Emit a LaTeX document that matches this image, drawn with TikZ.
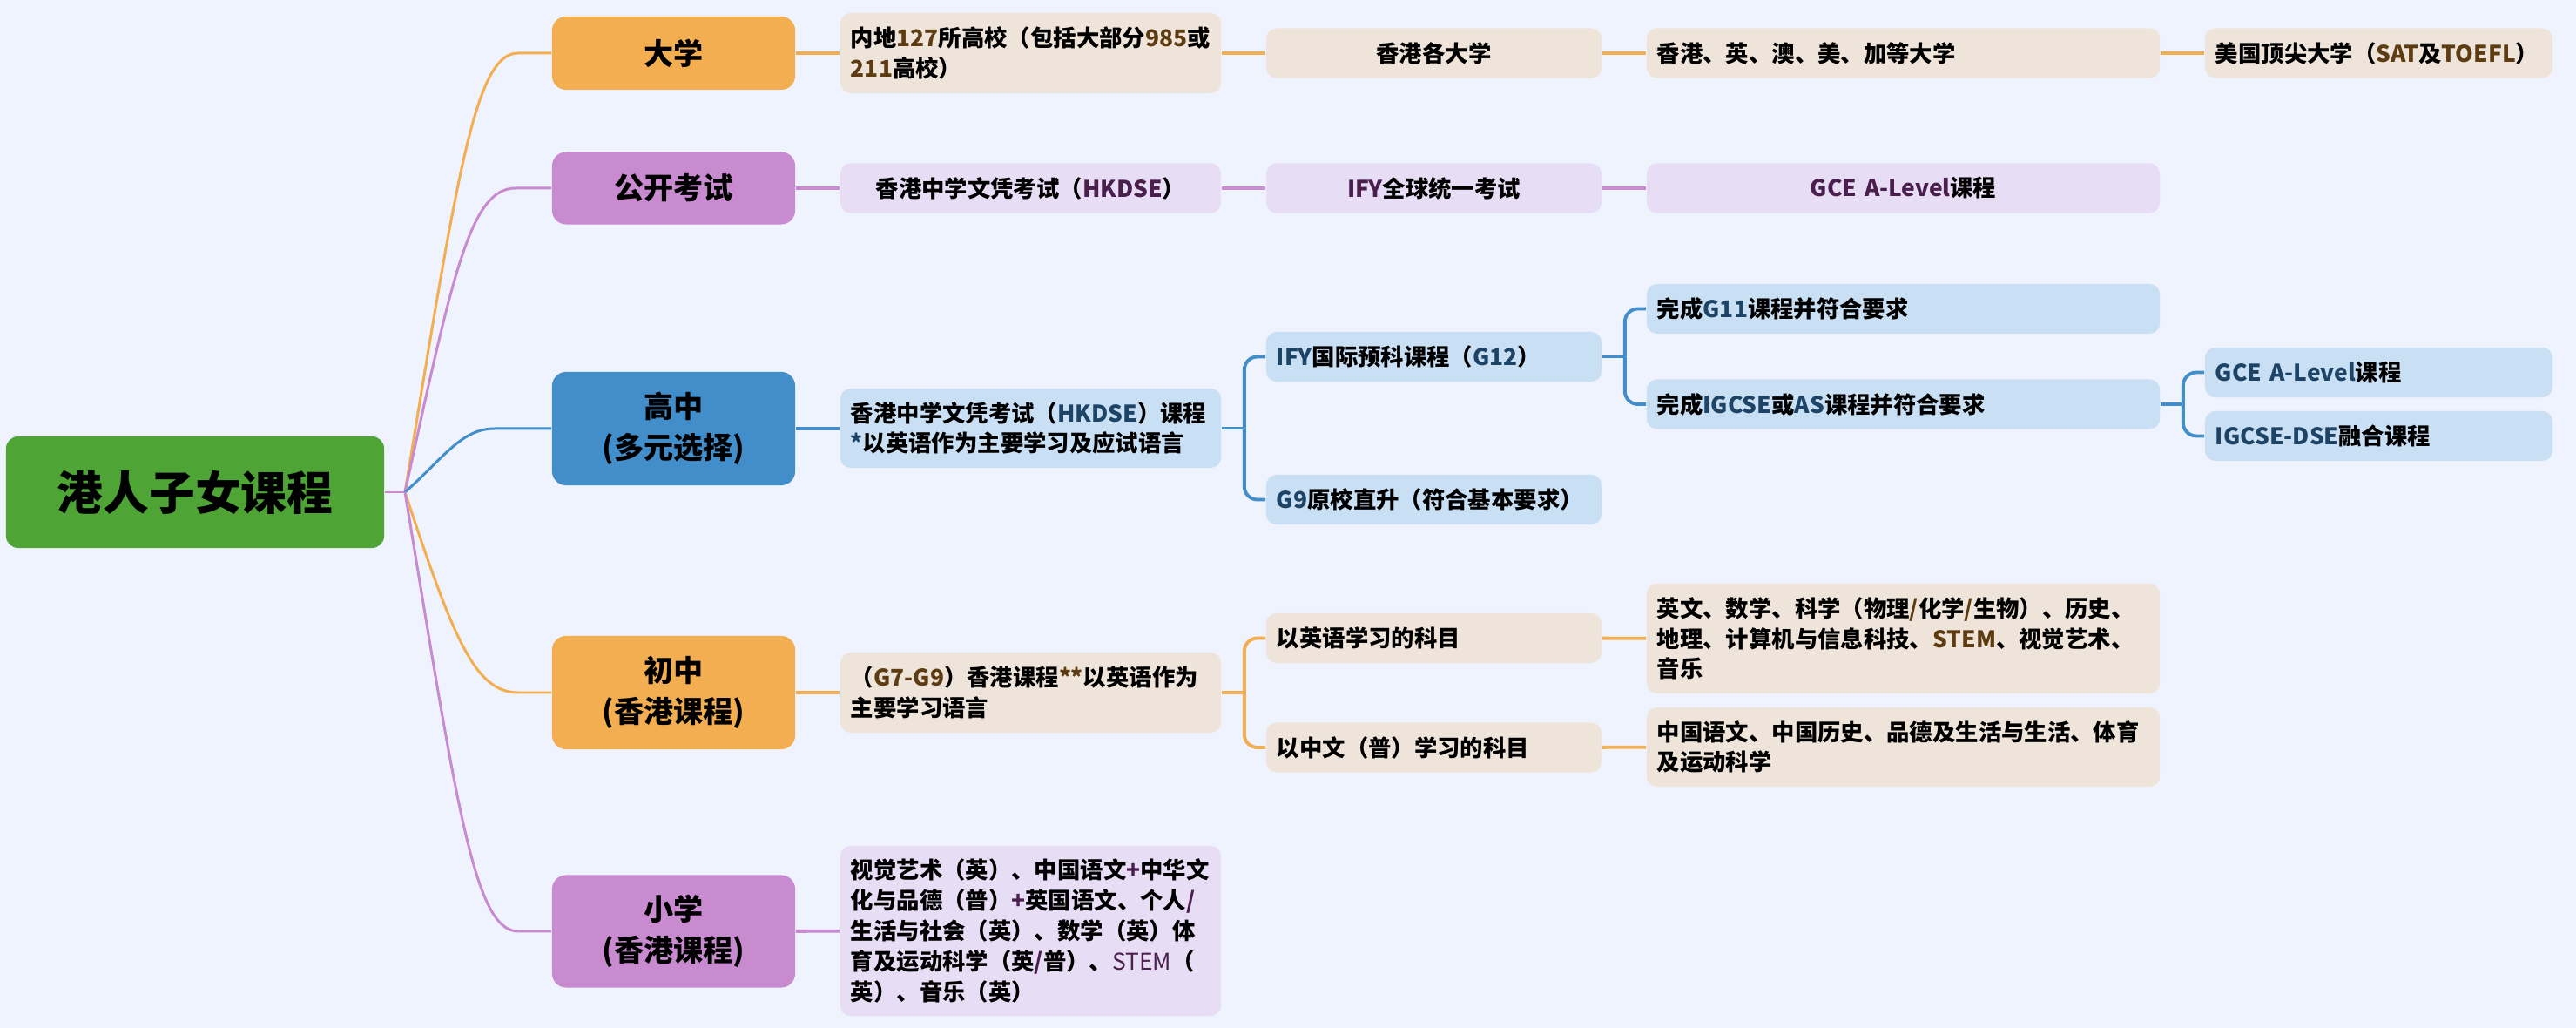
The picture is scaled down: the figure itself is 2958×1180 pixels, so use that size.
\documentclass[tikz,border=0pt]{standalone}
\usepackage{fontspec}
\setmainfont{Noto Sans CJK SC}
\usepackage{tikz}
\definecolor{bgc}{HTML}{EEF3FD}
\definecolor{rootg}{HTML}{4EA535}
\definecolor{orgc}{HTML}{F2AE50}
\definecolor{purc}{HTML}{C88BD0}
\definecolor{bluc}{HTML}{428ECB}
\definecolor{orgl}{HTML}{EFE4DA}
\definecolor{purl}{HTML}{E7DDF5}
\definecolor{blul}{HTML}{C9DFF3}
\definecolor{brn}{HTML}{5E3C12}
\definecolor{dpur}{HTML}{4A1F4E}
\definecolor{dblu}{HTML}{1D4466}
\newcommand{\accO}[1]{\textcolor{brn}{#1}}
\newcommand{\accP}[1]{\textcolor{dpur}{#1}}
\newcommand{\accB}[1]{\textcolor{dblu}{#1}}
\tikzset{
  box/.style={rounded corners=0.12cm, inner sep=0pt, font=\bfseries},
  rootbox/.style={box, rounded corners=0.14cm, fill=rootg, minimum width=4.34cm, minimum height=1.28cm, font=\fontsize{15}{18}\selectfont\bfseries},
  lvone/.style={box, rounded corners=0.16cm, minimum width=2.79cm, align=center, font=\fontsize{9.7}{13.4}\selectfont\bfseries},
  lvtwo/.style={box, inner xsep=0.12cm, align=left, minimum height=0.57cm, font=\fontsize{7.5}{9.9}\selectfont\bfseries},
  colA/.style={lvtwo, text width=4.13cm},
  colB/.style={lvtwo, text width=3.61cm},
  colC/.style={lvtwo, text width=5.65cm},
  colD/.style={lvtwo, text width=3.75cm},
  lvlink/.style={line width=0.85pt},
  lnk/.style={line width=1.1pt},
  fork/.style={lnk, rounded corners=0.15cm}
}

\begin{document}
\begin{tikzpicture}[x=0.01cm, y=-0.01cm]
	\fill[bgc] (0,0) rectangle (2958,1180);
	\useasboundingbox (0,0) rectangle (2958,1180);
	% root and first level
	\node[rootbox] (root) at (224,565) {港人子女课程};
	\coordinate (J) at (465,565);
	\node[lvone, fill=orgc, minimum height=0.84cm] (daxue) at (773.5,61) {大学};
	\node[lvone, fill=purc, minimum height=0.83cm] (gongkai) at (773.5,216) {公开考试};
	\node[lvone, fill=bluc, minimum height=1.30cm] (gaozhong) at (773.5,492) {高中\\(多元选择)};
	\node[lvone, fill=orgc, minimum height=1.30cm] (chuzhong) at (773.5,795) {初中\\(香港课程)};
	\node[lvone, fill=purc, minimum height=1.29cm] (xiaoxue) at (773.5,1069) {小学\\(香港课程)};
	\draw[lvlink, purc] (root.east) -- (J);
	\draw[lvlink, orgc] (J) .. controls (525,202) and (545,61) .. (595,61) -- (daxue.west);
	\draw[lvlink, purc] (J) .. controls (520,314) and (540,216) .. (592,216) -- (gongkai.west);
	\draw[lvlink, bluc] (J) .. controls (510,525) and (530,492) .. (568,492) -- (gaozhong.west);
	\draw[lvlink, orgc] (J) .. controls (520,731) and (545,795) .. (595,795) -- (chuzhong.west);
	\draw[lvlink, purc] (J) .. controls (525,928) and (545,1069) .. (595,1069) -- (xiaoxue.west);
	% university
	\node[colA, fill=orgl, minimum height=0.92cm] (neidi) at (1183.5,61) {内地\accO{127}所高校（包括大部分\accO{985}或\\\accO{211}高校）};
	\node[colB, fill=orgl, align=center] (hkdx) at (1646.5,61) {香港各大学};
	\node[colC, fill=orgl] (yingao) at (2185.5,61) {香港、英、澳、美、加等大学};
	\node[colD, fill=orgl] (sat) at (2731.5,61) {美国顶尖大学（\accO{SAT}及\accO{TOEFL}）};
	\draw[lnk, orgc] (daxue) -- (neidi);
	\draw[lnk, orgc] (neidi) -- (hkdx);
	\draw[lnk, orgc] (hkdx) -- (yingao);
	\draw[lnk, orgc] (yingao) -- (sat);
	% exams
	\node[colA, fill=purl, align=center] (hkdse) at (1183.5,216) {香港中学文凭考试（\accP{HKDSE}）};
	\node[colB, fill=purl, align=center] (ifyks) at (1646.5,216) {\accP{IFY}全球统一考试};
	\node[colC, fill=purl, align=center] (alevp) at (2185.5,216) {\accP{GCE A-Level}课程};
	\draw[lnk, purc] (gongkai) -- (hkdse);
	\draw[lnk, purc] (hkdse) -- (ifyks);
	\draw[lnk, purc] (ifyks) -- (alevp);
	% senior high
	\node[colA, fill=blul, minimum height=0.91cm] (hkdsekc) at (1183.5,491.5) {香港中学文凭考试（\accB{HKDSE}）课程\\\accB{*}以英语作为主要学习及应试语言};
	\node[colB, fill=blul] (ifyyk) at (1646.5,409.5) {\accB{IFY}国际预科课程（\accB{G12}）};
	\node[colB, fill=blul] (g9) at (1646.5,573.5) {\accB{G9}原校直升（符合基本要求）};
	\node[colC, fill=blul] (g11) at (2185.5,354.5) {完成\accB{G11}课程并符合要求};
	\node[colC, fill=blul] (igcse) at (2185.5,464) {完成\accB{IGCSE}或\accB{AS}课程并符合要求};
	\node[colD, fill=blul] (alevb) at (2731.5,427.5) {\accB{GCE A-Level}课程};
	\node[colD, fill=blul] (igcsedse) at (2731.5,500.5) {\accB{IGCSE-DSE}融合课程};
	\draw[lnk, bluc] (gaozhong.east) -- (gaozhong.east -| hkdsekc.west);
	\draw[lnk, bluc] (hkdsekc.east) -- ++(26,0) coordinate (jg);
	\draw[fork, bluc] (jg) |- (ifyyk.west);
	\draw[fork, bluc] (jg) |- (g9.west);
	\draw[lnk, bluc] (ifyyk.east) -- ++(26,0) coordinate (jy);
	\draw[fork, bluc] (jy) |- (g11.west);
	\draw[fork, bluc] (jy) |- (igcse.west);
	\draw[lnk, bluc] (igcse.east) -- ++(26,0) coordinate (ji);
	\draw[fork, bluc] (ji) |- (alevb.west);
	\draw[fork, bluc] (ji) |- (igcsedse.west);
	% junior high
	\node[colA, fill=orgl, minimum height=0.92cm] (g7g9) at (1183.5,795) {（\accO{G7-G9}）香港课程\accO{**}以英语作为\\主要学习语言};
	\node[colB, fill=orgl] (ywkm) at (1646.5,732.5) {以英语学习的科目};
	\node[colB, fill=orgl] (zwkm) at (1646.5,858) {以中文（普）学习的科目};
	\node[colC, fill=orgl, minimum height=1.26cm] (ywlist) at (2185.5,733) {英文、数学、科学（物理\accO{/}化学\accO{/}生物）、历史、\\地理、计算机与信息科技、\accO{STEM}、视觉艺术、\\音乐};
	\node[colC, fill=orgl, minimum height=0.91cm] (zwlist) at (2185.5,857.5) {中国语文、中国历史、品德及生活与生活、体育\\及运动科学};
	\draw[lnk, orgc] (chuzhong) -- (g7g9);
	\draw[lnk, orgc] (g7g9.east) -- ++(26,0) coordinate (jc);
	\draw[fork, orgc] (jc) |- (ywkm.west);
	\draw[fork, orgc] (jc) |- (zwkm.west);
	\draw[lnk, orgc] (ywkm) -- (ywlist);
	\draw[lnk, orgc] (zwkm) -- (zwlist);
	% primary
	\node[colA, fill=purl, minimum height=1.95cm] (xxkm) at (1183.5,1068.5) {视觉艺术（英）、中国语文\accP{+}中华文\\化与品德（普）\accP{+}英国语文、个人\accP{/}\\生活与社会（英）、数学（英）体\\育及运动科学（英\accP{/}普）、\accP{\mdseries STEM}（\\英）、音乐（英）};
	\draw[lnk, purc] (xiaoxue) -- (xxkm);
\end{tikzpicture}
\end{document}
